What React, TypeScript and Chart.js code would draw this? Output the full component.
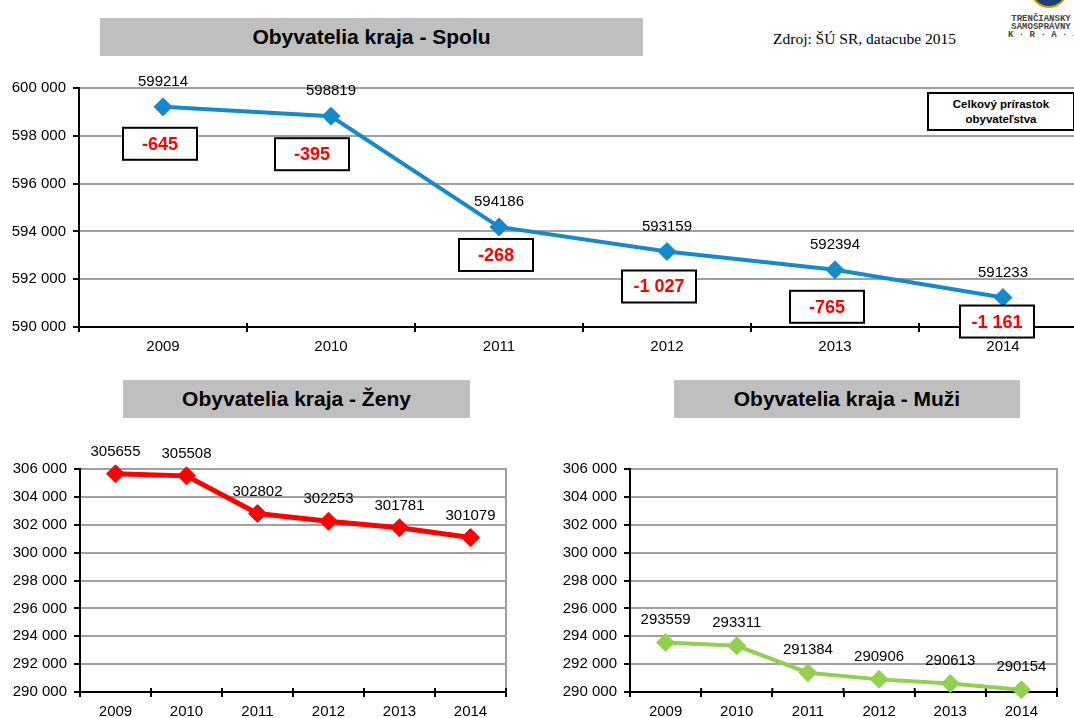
import React, { useEffect, useRef } from "react";
import { Chart, registerables } from "chart.js";

Chart.register(...registerables);

const FONT = "'Liberation Sans', Arial, sans-serif";

const YEARS = ["2009", "2010", "2011", "2012", "2013", "2014"];
const TOTAL = [599214, 598819, 594186, 593159, 592394, 591233];
const WOMEN = [305655, 305508, 302802, 302253, 301781, 301079];
const MEN = [293559, 293311, 291384, 290906, 290613, 290154];
const TOTAL_CHANGE = [-645, -395, -268, -1027, -765, -1161];
const TOTAL_AXIS = { min: 590000, max: 600000, step: 2000 };
const SPLIT_AXIS = { min: 290000, max: 306000, step: 2000 };
// layout only: where each change box sits relative to its point (px)
const CHANGE_BOX_OFFSETS = [
  [-3, 37],
  [-19, 38],
  [-3, 28],
  [-8, 35],
  [-8, 37],
  [-6, 24],
];

const fmt = (v: number) => {
  const s = Math.abs(v)
    .toString()
    .replace(/\B(?=(\d{3})+(?!\d))/g, " ");
  return (v < 0 ? "-" : "") + s;
};

type Props = {
  left: number;
  top: number;
  width: number;
  height: number;
  plotLeft: number;
  padTop: number;
  padRight: number;
  xAxisH: number;
  values: number[];
  color: string;
  lineWidth: number;
  axis: { min: number; max: number; step: number };
  labelOffset: number;
  rightBorder: boolean;
  changes?: number[];
};

function LineChart(p: Props) {
  const ref = useRef<HTMLCanvasElement | null>(null);
  useEffect(() => {
    if (!ref.current) return;
    const labelsPlugin = {
      id: "valueLabels",
      afterDatasetsDraw(chart: any) {
        const ctx = chart.ctx;
        const meta = chart.getDatasetMeta(0);
        ctx.save();
        ctx.font = `15px ${FONT}`;
        ctx.fillStyle = "#000";
        ctx.textAlign = "center";
        ctx.textBaseline = "middle";
        meta.data.forEach((pt: any, i: number) => {
          ctx.fillText(String(p.values[i]), pt.x, pt.y - p.labelOffset);
        });
        ctx.restore();
      },
    };
    const borderPlugin = {
      id: "rightBorder",
      beforeDatasetsDraw(chart: any) {
        const { ctx, chartArea } = chart;
        ctx.save();
        if (p.rightBorder) {
          ctx.strokeStyle = "#a0a0a0";
          ctx.lineWidth = 2;
          ctx.beginPath();
          ctx.moveTo(chartArea.right, chartArea.top - 1);
          ctx.lineTo(chartArea.right, chartArea.bottom);
          ctx.stroke();
        }
        // tick marks crossing slightly above the x axis
        const n = YEARS.length;
        const w = (chartArea.right - chartArea.left) / n;
        ctx.strokeStyle = "#000";
        ctx.lineWidth = 2;
        ctx.beginPath();
        for (let i = 1; i <= n; i++) {
          const x = chartArea.left + i * w;
          ctx.moveTo(x, chartArea.bottom - 4);
          ctx.lineTo(x, chartArea.bottom);
        }
        ctx.stroke();
        ctx.restore();
      },
    };
    const boxesPlugin = {
      id: "changeBoxes",
      afterDraw(chart: any) {
        if (!p.changes) return;
        const ctx = chart.ctx;
        const meta = chart.getDatasetMeta(0);
        ctx.save();
        meta.data.forEach((pt: any, i: number) => {
          const [dx, dy] = CHANGE_BOX_OFFSETS[i];
          const cx = pt.x + dx;
          const cy = pt.y + dy;
          const w = 74;
          const h = 32;
          ctx.fillStyle = "#fff";
          ctx.fillRect(cx - w / 2, cy - h / 2, w, h);
          ctx.strokeStyle = "#000";
          ctx.lineWidth = 2;
          ctx.strokeRect(cx - w / 2, cy - h / 2, w, h);
          ctx.fillStyle = "#ff0000";
          ctx.font = `bold 18px ${FONT}`;
          ctx.textAlign = "center";
          ctx.textBaseline = "middle";
          ctx.fillText(fmt(p.changes![i]), cx, cy + 1);
        });
        ctx.restore();
      },
    };
    const chart = new Chart(ref.current, {
      type: "line",
      data: {
        labels: YEARS,
        datasets: [
          {
            data: p.values,
            borderColor: p.color,
            backgroundColor: p.color,
            borderWidth: p.lineWidth,
            pointStyle: "rectRot",
            pointRadius: 9,
            pointBorderWidth: 1,
            pointBackgroundColor: p.color,
            pointBorderColor: p.color,
            tension: 0,
            clip: false as any,
          },
        ],
      },
      options: {
        animation: false,
        responsive: false,
        maintainAspectRatio: false,
        events: [],
        layout: { padding: { top: p.padTop, right: p.padRight, left: 0, bottom: 0 } },
        plugins: {
          legend: { display: false },
          tooltip: { enabled: false },
          title: { display: false },
        },
        scales: {
          x: {
            type: "category",
            offset: true,
            grid: {
              display: true,
              offset: true,
              drawOnChartArea: false,
              drawTicks: true,
              tickLength: 5,
              tickColor: "#000",
              color: "#000",
              lineWidth: 2,
            },
            border: { display: true, color: "#000", width: 2 },
            ticks: {
              color: "#000",
              font: { family: FONT, size: 15 },
              padding: 6,
              maxRotation: 0,
              autoSkip: false,
            },
            afterFit: (s: any) => {
              s.height = p.xAxisH;
            },
          },
          y: {
            min: p.axis.min,
            max: p.axis.max,
            ticks: {
              stepSize: p.axis.step,
              color: "#000",
              font: { family: FONT, size: 15 },
              padding: 7,
              callback: (v: any) => fmt(Number(v)),
            },
            grid: {
              color: "#a0a0a0",
              lineWidth: 2,
              tickLength: 6,
              tickColor: "#000",
              drawTicks: true,
            },
            border: { display: true, color: "#000", width: 2 },
            afterFit: (s: any) => {
              s.width = p.plotLeft;
            },
          },
        },
      } as any,
      plugins: [borderPlugin, labelsPlugin, boxesPlugin],
    });
    return () => chart.destroy();
  }, []);
  return (
    <canvas
      ref={ref}
      width={p.width}
      height={p.height}
      style={{
        position: "absolute",
        left: p.left,
        top: p.top,
        width: p.width,
        height: p.height,
      }}
    />
  );
}

const titleStyle = (left: number, top: number, width: number): React.CSSProperties => ({
  position: "absolute",
  left,
  top,
  width,
  height: 38,
  background: "#bfbfbf",
  display: "flex",
  alignItems: "center",
  justifyContent: "center",
  fontFamily: FONT,
  fontWeight: "bold",
  fontSize: 21,
  color: "#000",
});

export default function App() {
  return (
    <div
      style={{
        position: "absolute",
        left: 0,
        top: 0,
        width: 1074,
        height: 718,
        overflow: "hidden",
        background: "#fff",
      }}
    >
      <LineChart
        left={0}
        top={60}
        width={1100}
        height={300}
        plotLeft={79}
        padTop={28}
        padRight={13}
        xAxisH={33}
        values={TOTAL}
        color="#1589cc"
        lineWidth={4}
        axis={TOTAL_AXIS}
        labelOffset={25}
        rightBorder={false}
        changes={TOTAL_CHANGE}
      />
      <LineChart
        left={0}
        top={430}
        width={520}
        height={288}
        plotLeft={80}
        padTop={39}
        padRight={14}
        xAxisH={26}
        values={WOMEN}
        color="#ff0000"
        lineWidth={5}
        axis={SPLIT_AXIS}
        labelOffset={22}
        rightBorder={true}
      />
      <LineChart
        left={540}
        top={430}
        width={530}
        height={288}
        plotLeft={90}
        padTop={39}
        padRight={13}
        xAxisH={26}
        values={MEN}
        color="#92d050"
        lineWidth={4}
        axis={SPLIT_AXIS}
        labelOffset={23}
        rightBorder={true}
      />
      <div style={titleStyle(100, 18, 543)}>Obyvatelia kraja - Spolu</div>
      <div style={titleStyle(123, 380, 347)}>Obyvatelia kraja - Ženy</div>
      <div style={titleStyle(674, 380, 346)}>Obyvatelia kraja - Muži</div>
      <div
        style={{
          position: "absolute",
          left: 773,
          top: 30,
          fontFamily: "'Liberation Serif', serif",
          fontSize: 15.5,
          color: "#000",
          whiteSpace: "nowrap",
        }}
      >
        Zdroj: ŠÚ SR, datacube 2015
      </div>
      <div
        style={{
          position: "absolute",
          left: 1030,
          top: -30,
          width: 38,
          height: 38,
          borderRadius: "50%",
          background: "#1f3f7a",
          border: "2px solid #c8a800",
          boxSizing: "border-box",
        }}
      />
      <div
        style={{
          position: "absolute",
          left: 1008,
          top: 15,
          width: 66,
          fontFamily: "'Liberation Mono', monospace",
          fontSize: 9,
          lineHeight: "8px",
          fontWeight: "bold",
          color: "#444",
          textAlign: "center",
          whiteSpace: "pre",
        }}
      >
        {"TRENČIANSKY\nSAMOSPRÁVNY\nK · R · A · J"}
      </div>
      <div
        style={{
          position: "absolute",
          left: 927,
          top: 92,
          width: 148,
          height: 39,
          boxSizing: "border-box",
          border: "2px solid #000",
          background: "#fff",
          display: "flex",
          alignItems: "center",
          justifyContent: "center",
          textAlign: "center",
          fontFamily: FONT,
          fontWeight: "bold",
          fontSize: 11.5,
          lineHeight: "15px",
          color: "#000",
        }}
      >
        Celkový prírastok
        <br />
        obyvateľstva
      </div>
    </div>
  );
}
